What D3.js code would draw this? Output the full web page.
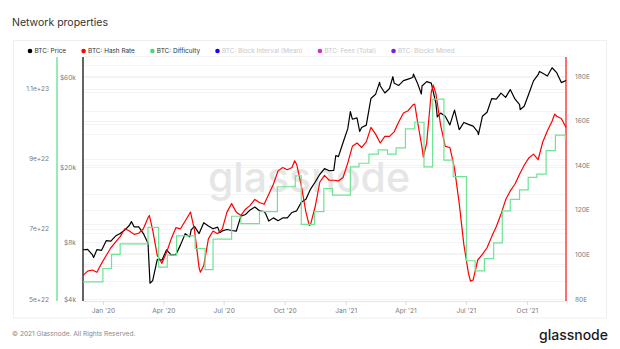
<!DOCTYPE html>
<html>
<head>
<meta charset="utf-8">
<script src="https://d3js.org/d3.v7.min.js"></script>
<style>
body { margin: 0; background: #fff; }
text { font-family: Inter, "Noto Sans", sans-serif; }
</style>
</head>
<body>
<div id="chart"></div>
<script>
//---------------------------------------Data---------------------------------------
// weekly samples, first one on 2019-12-02
var firstWeek = "2019-12-02";
var lastDay = "2021-11-29";

// BTC price (USD)
var priceValues = [
  7300, 7340, 6880, 7320, 7250, 8160, 8110, 8630, 8910, 9290,
  9850, 9660, 9650, 8900, 7900, 5010, 6490, 6430, 7300, 6840,
  6880, 7750, 8890, 8560, 9710, 8900, 10170, 9770, 9440, 9630,
  9190, 9350, 9240, 9160, 11020, 11230, 11880, 12300, 11750, 11650,
  10370, 10780, 10420, 10770, 10790, 11520, 11750, 13030, 13550, 15330,
  16720, 18360, 19700, 19170, 19270, 22800, 27100, 31970, 36000, 36600,
  32500, 33500, 46400, 48800, 54200, 49600, 52400, 55900, 54400, 57700,
  58800, 59900, 56100, 54000, 57000, 56000, 43500, 38800, 37300, 33600,
  40200, 31700, 34600, 33800, 33100, 30800, 37300, 39200, 46300, 46000,
  49500, 47000, 51700, 46100, 43000, 42200, 49100, 57500, 62000, 63100,
  61000, 67500, 63600, 56300, 57800
];
// price turning points between the weekly samples
var priceExtraDates = ["2019-12-18", "2020-02-13", "2020-03-12", "2020-05-13", "2020-06-25",
  "2020-09-02", "2020-12-17", "2021-01-08", "2021-01-22", "2021-02-21", "2021-03-13",
  "2021-04-13", "2021-04-25", "2021-05-19", "2021-06-22", "2021-07-20", "2021-09-21",
  "2021-10-20"];
var priceExtraValues = [6640, 10300, 4850, 9300, 9000,
  11400, 23100, 39500, 31000, 56500, 60500,
  62500, 49000, 37000, 32000, 29800, 40500,
  64500];

// BTC hash rate (EH/s)
var hashValues = [
  90.6, 92.5, 93, 92, 96, 99.5, 103, 105.5, 108, 111.5,
  110.5, 109, 109.5, 111.5, 116.5, 111, 99.5, 96, 101, 107,
  112, 111.5, 115, 118.5, 111, 94, 95, 107, 110.5, 109.3,
  111.5, 119, 122.8, 119, 117.5, 120.3, 122, 124.7, 123.3, 122.5,
  127, 131.5, 137.5, 139, 138, 139, 140.5, 131, 119, 113.5,
  121.5, 132.5, 135.5, 133.3, 133.3, 133, 134.5, 141, 148.5, 150,
  148, 150.5, 157, 154, 150, 153, 153, 155, 159.5, 163.5,
  164.5, 167, 160, 148, 150, 173, 172, 158, 148.5, 148,
  138.5, 123, 104.5, 91.5, 88.5, 97.5, 100, 103, 108, 112.5,
  118, 124.5, 128.5, 131.5, 136, 140, 143.3, 145, 142.5, 150.5,
  155.5, 159.8, 162, 161, 157
];
var hashExtraDates = ["2020-03-11", "2020-05-12", "2020-05-27", "2020-10-16", "2020-11-07",
  "2021-04-15", "2021-04-28", "2021-05-13", "2021-07-08", "2021-11-12"];
var hashExtraValues = [117.5, 119, 92, 142, 113,
  167.5, 143.7, 176, 88, 163];

// BTC difficulty, one value per adjustment
var diffDates = [
  "2019-12-02", "2020-01-01", "2020-01-14", "2020-01-27", "2020-03-09", "2020-03-25",
  "2020-04-07", "2020-04-21", "2020-05-19", "2020-06-03", "2020-06-15", "2020-07-13",
  "2020-07-27", "2020-08-24", "2020-09-20", "2020-10-17", "2020-10-26", "2020-11-15",
  "2020-11-29", "2020-12-12", "2021-01-08", "2021-01-21", "2021-02-05", "2021-02-19",
  "2021-03-05", "2021-03-18", "2021-04-01", "2021-04-15", "2021-04-29", "2021-05-12",
  "2021-05-29", "2021-06-12", "2021-07-02", "2021-07-15", "2021-07-29", "2021-08-12",
  "2021-08-25", "2021-09-06", "2021-09-20", "2021-10-03", "2021-10-16", "2021-10-30",
  "2021-11-13", "2021-11-28"
];
var diffValues = [
  5.49e22, 5.87e22, 6.27e22, 6.57e22, 7.04e22, 5.91e22,
  6.25e22, 6.80e22, 6.44e22, 5.84e22, 6.71e22, 7.36e22,
  7.15e22, 7.49e22, 8.20e22, 8.51e22, 7.13e22, 7.49e22,
  8.15e22, 7.96e22, 8.77e22, 8.87e22, 9.13e22, 9.25e22,
  9.13e22, 9.31e22, 9.85e22, 10.04e22, 8.77e22, 10.70e22,
  8.96e22, 8.49e22, 6.09e22, 5.80e22, 6.15e22, 6.60e22,
  7.51e22, 7.84e22, 8.11e22, 8.47e22, 8.56e22, 9.23e22,
  9.67e22, 9.53e22
];

// Legend
var legendNames = ["BTC: Price", "BTC: Hash Rate", "BTC: Difficulty",
  "BTC: Block Interval (Mean)", "BTC: Fees (Total)", "BTC: Blocks Mined"];
var legendColors = ["#000000", "#ff0000", "#4bd873", "#1a00ff", "#d12fd1", "#7a1fe0"];
var legendActive = [true, true, true, false, false, false];

// Ticks
var monthTicks = ["2020-01-01", "2020-04-01", "2020-07-01", "2020-10-01",
  "2021-01-01", "2021-04-01", "2021-07-01", "2021-10-01"];
var priceTicks = [4000, 8000, 20000, 60000];
var priceGrid = [5000, 6000, 7000, 9000, 10000, 30000, 40000, 50000, 70000];
var diffTicks = [5e22, 7e22, 9e22, 1.1e23];
var hashTicks = [80, 100, 120, 140, 160, 180];

//---------------------------------------Layout---------------------------------------
var width = 620, height = 349;
var plot = {left: 83, right: 566, top: 57, bottom: 299};

var parse = d3.timeParse("%Y-%m-%d");
var start = parse(firstWeek);

// weekly samples plus extra points, in date order
function series(values, extraDates, extraValues) {
  var pts = values.map(function(v, i) { return {date: d3.timeDay.offset(start, 7 * i), value: v}; });
  extraDates.forEach(function(d, i) { pts.push({date: parse(d), value: extraValues[i]}); });
  return pts.sort(function(a, b) { return a.date - b.date; });
}
var priceData = series(priceValues, priceExtraDates, priceExtraValues);
var hashData = series(hashValues, hashExtraDates, hashExtraValues);

var x = d3.scaleTime()
  .domain([start, parse(lastDay)])
  .range([plot.left, plot.right]);

var yPrice = d3.scaleLog()
  .domain([4000, 77000])
  .range([plot.bottom, plot.top]);

var yDiff = d3.scaleLinear()
  .domain([5e22, 1.19e23])
  .range([plot.bottom, plot.top]);

var yHash = d3.scaleLinear()
  .domain([80, 188.6])
  .range([plot.bottom, plot.top]);

var svg = d3.select("#chart").append("svg")
  .attr("width", width)
  .attr("height", height);

// Title
svg.append("text")
  .attr("x", 12)
  .attr("y", 25.5)
  .attr("font-size", 10.5)
  .attr("fill", "#333")
  .text("Network properties");

// Panel border
svg.append("rect")
  .attr("x", 13.5).attr("y", 40.5)
  .attr("width", 593).attr("height", 277.5)
  .attr("fill", "none")
  .attr("stroke", "#efefef");

// Legend
var lx = 30;
legendNames.forEach(function(name, i) {
  svg.append("circle")
    .attr("cx", lx).attr("cy", 51)
    .attr("r", 2.3)
    .attr("fill", legendColors[i]);
  var t = svg.append("text")
    .attr("x", lx + 4.5)
    .attr("y", 53.3)
    .attr("font-size", 6.4)
    .attr("fill", legendActive[i] ? "#333" : "#c8c8c8")
    .text(name);
  lx = lx + 4.5 + t.node().getComputedTextLength() + 17.5;
});

//---------------------------------------Grid---------------------------------------
var grid = svg.append("g").attr("stroke", "#f3f3f3").attr("stroke-width", 1);
function gridLine(yy) {
  yy = Math.round(yy) + 0.5;
  grid.append("line").attr("x1", plot.left).attr("x2", plot.right).attr("y1", yy).attr("y2", yy);
}
priceTicks.concat(priceGrid).forEach(function(v) { gridLine(yPrice(v)); });
d3.range(6e22, 1.2e23, 1e22).forEach(function(v) { gridLine(yDiff(v)); });
hashTicks.forEach(function(v) { gridLine(yHash(v)); });
gridLine(plot.top - 1);

// Watermark
svg.append("text")
  .attr("x", 309)
  .attr("y", 192)
  .attr("text-anchor", "middle")
  .attr("font-size", 41)
  .attr("font-weight", 500)
  .attr("fill", "#e6e6e6")
  .text("glassnode");

//---------------------------------------Axes---------------------------------------
var tickFont = function(g) {
  g.select(".domain").remove();
  g.selectAll("line").remove();
  g.selectAll("text").attr("font-family", "Inter, 'Noto Sans', sans-serif")
    .attr("font-size", 6.6).attr("fill", "#7a7a7a");
};

// x axis
svg.append("line")
  .attr("x1", plot.left).attr("x2", plot.right)
  .attr("y1", plot.bottom + 2.5).attr("y2", plot.bottom + 2.5)
  .attr("stroke", "#e6e6e6");
svg.append("g")
  .attr("transform", "translate(0," + (plot.bottom + 2) + ")")
  .call(d3.axisBottom(x)
    .tickValues(monthTicks.map(parse))
    .tickFormat(d3.timeFormat("%b '%y"))
    .tickSize(4)
    .tickPadding(3))
  .call(function(g) {
    g.select(".domain").remove();
    g.selectAll("line").attr("stroke", "#dddddd");
    g.selectAll("text").attr("font-family", "Inter, 'Noto Sans', sans-serif")
      .attr("font-size", 6.6).attr("fill", "#7a7a7a");
  });

// difficulty axis (outer left)
svg.append("g")
  .attr("transform", "translate(57,0)")
  .call(d3.axisLeft(yDiff)
    .tickValues(diffTicks)
    .tickFormat(function(d) { return d.toExponential(); }))
  .call(tickFont)
  .call(function(g) { g.selectAll("text").attr("x", -8); });
svg.append("line")
  .attr("x1", 57).attr("x2", 57).attr("y1", plot.top).attr("y2", plot.bottom + 2)
  .attr("stroke", "#5fe38a").attr("stroke-width", 1.3);

// price axis
svg.append("g")
  .attr("transform", "translate(" + plot.left + ",0)")
  .call(d3.axisLeft(yPrice)
    .tickValues(priceTicks)
    .tickFormat(function(d) { return "$" + (d / 1000) + "k"; }))
  .call(tickFont)
  .call(function(g) { g.selectAll("text").attr("x", -7); });
svg.append("line")
  .attr("x1", plot.left).attr("x2", plot.left).attr("y1", plot.top).attr("y2", plot.bottom + 2)
  .attr("stroke", "#111").attr("stroke-width", 1.3);

// hash rate axis (right)
svg.append("g")
  .attr("transform", "translate(" + plot.right + ",0)")
  .call(d3.axisRight(yHash)
    .tickValues(hashTicks)
    .tickFormat(function(d) { return d + "E"; }))
  .call(tickFont)
  .call(function(g) { g.selectAll("text").attr("x", 9); });
svg.append("line")
  .attr("x1", plot.right).attr("x2", plot.right).attr("y1", plot.top).attr("y2", plot.bottom + 2)
  .attr("stroke", "#ff2020").attr("stroke-width", 1.3);

//---------------------------------------Lines---------------------------------------
var priceLine = d3.line()
  .x(function(d) { return x(d.date); })
  .y(function(d) { return yPrice(d.value); });

var hashLine = d3.line()
  .x(function(d) { return x(d.date); })
  .y(function(d) { return yHash(d.value); });

var diffData = diffDates.map(function(d, i) { return {date: parse(d), value: diffValues[i]}; });
diffData.push({date: parse(lastDay), value: diffValues[diffValues.length - 1]});

var diffLine = d3.line()
  .curve(d3.curveStepAfter)
  .x(function(d) { return x(d.date); })
  .y(function(d) { return yDiff(d.value); });

svg.append("path")
  .datum(priceData)
  .attr("d", priceLine)
  .attr("fill", "none")
  .attr("stroke", "#000")
  .attr("stroke-width", 1.2)
  .attr("stroke-linejoin", "round");

svg.append("path")
  .datum(hashData)
  .attr("d", hashLine)
  .attr("fill", "none")
  .attr("stroke", "#ff0000")
  .attr("stroke-width", 1.2)
  .attr("stroke-linejoin", "round");

svg.append("path")
  .datum(diffData)
  .attr("d", diffLine)
  .attr("fill", "none")
  .attr("stroke", "#6fe394")
  .attr("stroke-width", 1.2);

//---------------------------------------Footer---------------------------------------
svg.append("text")
  .attr("x", 12)
  .attr("y", 335.5)
  .attr("font-size", 6.6)
  .attr("fill", "#888")
  .text("\u00a9 2021 Glassnode. All Rights Reserved.");

svg.append("text")
  .attr("x", 608)
  .attr("y", 339.5)
  .attr("text-anchor", "end")
  .attr("font-size", 14)
  .attr("font-weight", 500)
  .attr("fill", "#1a1a1a")
  .text("glassnode");
</script>
</body>
</html>
